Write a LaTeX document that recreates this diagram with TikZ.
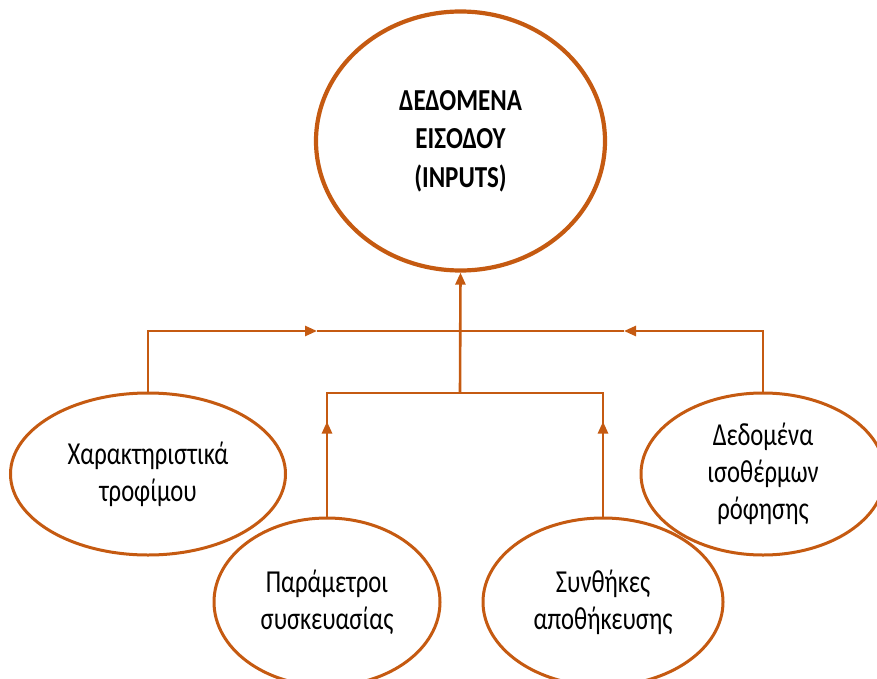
\documentclass[tikz,border=0pt]{standalone}
\usepackage{fontspec}
\setmainfont{Carlito}
\newfontfamily\lblfont[FakeStretch=0.77]{Carlito}
\newfontfamily\ttlfont[FakeStretch=0.82]{Carlito}
\usetikzlibrary{shapes.geometric,arrows.meta}
\definecolor{brc}{HTML}{C55A11}
\begin{document}
\begin{tikzpicture}[x=1pt,y=-1pt,
 bubble/.style={ellipse, draw=brc, line width=3pt, inner sep=0pt, align=center, font=\lblfont\fontsize{32}{37}\selectfont},
 conn/.style={draw=brc, line width=2.6pt},
 tip/.style={-{Triangle[length=12pt,width=10pt]}}
]
\useasboundingbox (0,0) rectangle (877,679);
\node[bubble, line width=4.2pt, minimum width=289pt, minimum height=259pt, font=\ttlfont\bfseries\fontsize{30.5}{38.5}\selectfont] (top) at (460.5,141) {ΔΕΔΟΜΕΝΑ\\ΕΙΣΟΔΟΥ\\(INPUTS)};
\node[bubble, minimum width=275pt, minimum height=162pt] (L) at (148,474) {Χαρακτηριστικά\\τροφίμου};
\node[bubble, minimum width=244pt, minimum height=162pt] (R) at (763,474) {Δεδομένα\\ισοθέρμων\\ρόφησης};
\node[bubble, minimum width=226pt, minimum height=168pt] (P) at (327,602) {Παράμετροι\\συσκευασίας};
\node[bubble, minimum width=240pt, minimum height=168pt] (S) at (603,602) {Συνθήκες\\αποθήκευσης};
\coordinate (hub) at (460,331);
\coordinate (aL) at (317,331);
\coordinate (aR) at (624,331);
\coordinate (low) at (460,393);
\draw[conn,tip] (L.north) |- (aL);
\draw[conn] (aL) -- (hub);
\draw[conn,tip] (R.north) |- (aR);
\draw[conn] (aR) -- (hub);
\draw[conn,tip] (low) -- (top.south);
\draw[conn] (P.north) |- (low) -| (S.north);
\draw[conn,tip] (P.north) -- ++(0,-95);
\draw[conn,tip] (S.north) -- ++(0,-95);
\end{tikzpicture}
\end{document}
